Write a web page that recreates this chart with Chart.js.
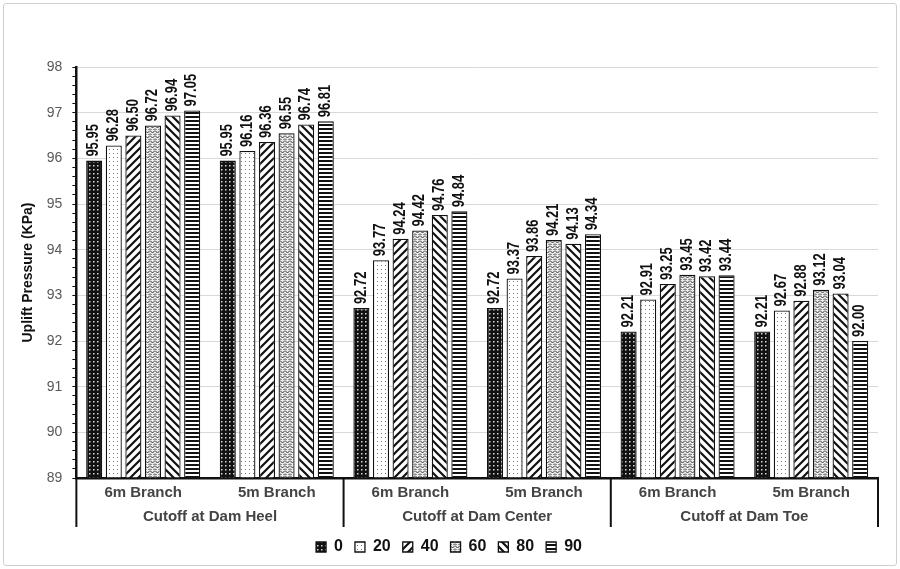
<!DOCTYPE html>
<html lang="en">
<head>
    <meta charset="UTF-8" />
    <title>Uplift Pressure</title>
    <style>
        html, body {
            margin: 0;
            padding: 0;
            background: #ffffff;
        }
        .frame {
            position: absolute;
            left: 3px;
            top: 3px;
            width: 892px;
            height: 561px;
            border: 1px solid #cfcfcf;
            border-radius: 3px;
        }
        #wrap {
            position: absolute;
            left: 0;
            top: 0;
            width: 900px;
            height: 569px;
        }
    </style>
</head>
<body>
<div class="frame"></div>
<div id="wrap"><canvas id="grafico"></canvas></div>

<script src="https://cdn.jsdelivr.net/npm/chart.js"></script>
<script>
    const branches = ["6m Branch", "5m Branch", "6m Branch", "5m Branch", "6m Branch", "5m Branch"];
    const cutoffs = ["Cutoff at Dam Heel", "Cutoff at Dam Center", "Cutoff at Dam Toe"];
    const seriesNames = ["0", "20", "40", "60", "80", "90"];

    const s0  = [95.95, 95.95, 92.72, 92.72, 92.21, 92.21];
    const s20 = [96.28, 96.16, 93.77, 93.37, 92.91, 92.67];
    const s40 = [96.50, 96.36, 94.24, 93.86, 93.25, 92.88];
    const s60 = [96.72, 96.55, 94.42, 94.21, 93.45, 93.12];
    const s80 = [96.94, 96.74, 94.76, 94.13, 93.42, 93.04];
    const s90 = [97.05, 96.81, 94.84, 94.34, 93.44, 92.00];

    const yMin = 89;
    const yMax = 98;

    const fonte = "Arial, 'Liberation Sans', sans-serif";

    // small tile patterns, one per series
    function tile(size, draw) {
        const c = document.createElement("canvas");
        c.width = size;
        c.height = size;
        const g = c.getContext("2d");
        draw(g, size);
        return document.getElementById("grafico").getContext("2d").createPattern(c, "repeat");
    }

    const patterns = [
        tile(4, (g, n) => {          // black with white dots
            g.fillStyle = "#111";
            g.fillRect(0, 0, n, n);
            g.fillStyle = "#d8d8d8";
            g.fillRect(1, 1, 1.5, 1.5);
        }),
        tile(4, (g, n) => {          // white with grey dots
            g.fillStyle = "#fff";
            g.fillRect(0, 0, n, n);
            g.fillStyle = "#777";
            g.fillRect(1, 1, 1, 1);
        }),
        tile(8, (g, n) => {          // "/" stripes
            g.fillStyle = "#fff";
            g.fillRect(0, 0, n, n);
            g.strokeStyle = "#111";
            g.lineWidth = 2.2;
            g.beginPath();
            g.moveTo(-2, n + 2); g.lineTo(n + 2, -2);
            g.moveTo(-2, 2); g.lineTo(2, -2);
            g.moveTo(n - 2, n + 2); g.lineTo(n + 2, n - 2);
            g.stroke();
        }),
        tile(5, (g, n) => {          // zigzag weave
            g.fillStyle = "#eeeeee";
            g.fillRect(0, 0, n, n);
            g.strokeStyle = "#333";
            g.lineWidth = 1;
            g.beginPath();
            g.moveTo(0, 0.5); g.lineTo(2.5, 3); g.lineTo(5, 0.5);
            g.moveTo(0, 3.5); g.lineTo(1.5, 5);
            g.moveTo(5, 3.5); g.lineTo(3.5, 5);
            g.stroke();
        }),
        tile(8, (g, n) => {          // "\" stripes
            g.fillStyle = "#fff";
            g.fillRect(0, 0, n, n);
            g.strokeStyle = "#111";
            g.lineWidth = 2.2;
            g.beginPath();
            g.moveTo(-2, -2); g.lineTo(n + 2, n + 2);
            g.moveTo(n - 2, -2); g.lineTo(n + 2, 2);
            g.moveTo(-2, n - 2); g.lineTo(2, n + 2);
            g.stroke();
        }),
        tile(4, (g, n) => {          // horizontal stripes
            g.fillStyle = "#fff";
            g.fillRect(0, 0, n, n);
            g.fillStyle = "#111";
            g.fillRect(0, 0, n, 2);
        })
    ];

    const valores = [s0, s20, s40, s60, s80, s90];

    const datasets = valores.map((vals, i) => ({
        label: seriesNames[i],
        data: vals,
        backgroundColor: patterns[i],
        borderColor: "#111",
        borderWidth: 1.3,
        categoryPercentage: 0.88,
        barPercentage: 0.82,
        base: yMin
    }));

    // value labels, rotated (a bit wider across, like the original)
    const rotuloValores = {
        id: "rotuloValores",
        afterDatasetsDraw(chart) {
            const ctx = chart.ctx;
            ctx.save();
            ctx.font = "bold 13px " + fonte;
            ctx.fillStyle = "#111";
            ctx.textAlign = "left";
            ctx.textBaseline = "middle";
            chart.data.datasets.forEach((ds, di) => {
                chart.getDatasetMeta(di).data.forEach((bar, i) => {
                    ctx.save();
                    ctx.translate(bar.x, bar.y - 4);
                    ctx.rotate(-Math.PI / 2);
                    ctx.scale(1, 1.2);
                    ctx.fillText(ds.data[i].toFixed(2), 0, 0);
                    ctx.restore();
                });
            });
            ctx.restore();
        }
    };

    // separators between cutoff groups
    const separadores = {
        id: "separadores",
        afterDraw(chart) {
            const ctx = chart.ctx;
            const x = chart.scales.x;
            const x2 = chart.scales.x2;
            const half = (x.getPixelForValue(1) - x.getPixelForValue(0)) / 2;
            ctx.save();
            ctx.strokeStyle = "#111";
            ctx.lineWidth = 2;
            ctx.beginPath();
            for (let k = 0; k <= cutoffs.length; k++) {
                const px = k < cutoffs.length ? x.getPixelForValue(k * 2) - half : x.getPixelForValue(branches.length - 1) + half;
                ctx.moveTo(px, chart.chartArea.bottom);
                ctx.lineTo(px, x2.bottom);
            }
            ctx.stroke();
            ctx.restore();
        }
    };

    const ctx = document.getElementById("grafico").getContext("2d");
    new Chart(ctx, {
        type: "bar",
        data: {
            labels: branches,
            datasets: datasets
        },
        plugins: [rotuloValores, separadores],
        options: {
            responsive: true,
            maintainAspectRatio: false,
            animation: false,
            layout: {
                padding: { left: 20, right: 22, top: 67, bottom: 4 }
            },
            scales: {
                y: {
                    min: yMin,
                    max: yMax,
                    ticks: {
                        stepSize: 0.2,
                        autoSkip: false,
                        padding: 10,
                        color: "#595959",
                        font: { size: 14, family: fonte },
                        callback: v => Math.abs(v - Math.round(v)) < 1e-6 ? String(Math.round(v)) : ""
                    },
                    grid: {
                        color: c => (c.tick && Math.abs(c.tick.value - Math.round(c.tick.value)) < 1e-6) ? "#d9d9d9" : "rgba(0,0,0,0)",
                        tickColor: "#111",
                        tickLength: 4,
                        lineWidth: 1
                    },
                    border: { color: "#111", width: 2.5 },
                    title: {
                        display: true,
                        text: "Uplift Pressure (KPa)",
                        color: "#111",
                        font: { size: 14, weight: "bold", family: fonte },
                        padding: { top: 0, bottom: 0 }
                    }
                },
                x: {
                    grid: { display: false, drawTicks: false },
                    border: { color: "#111", width: 2.5 },
                    ticks: {
                        color: "#444",
                        padding: 6,
                        font: { size: 15, weight: "bold", family: fonte }
                    }
                },
                x2: {
                    type: "category",
                    position: "bottom",
                    labels: cutoffs,
                    grid: { display: false, drawTicks: false },
                    border: { display: false },
                    ticks: {
                        color: "#444",
                        padding: 0,
                        font: { size: 15, weight: "bold", family: fonte }
                    },
                    afterFit: scale => { scale.height += 1; }
                }
            },
            plugins: {
                legend: {
                    position: "bottom",
                    labels: {
                        boxWidth: 10,
                        boxHeight: 10,
                        padding: 12,
                        color: "#111",
                        font: { size: 16, weight: "bold", family: fonte }
                    }
                },
                tooltip: { enabled: false }
            }
        }
    });
</script>
</body>
</html>
